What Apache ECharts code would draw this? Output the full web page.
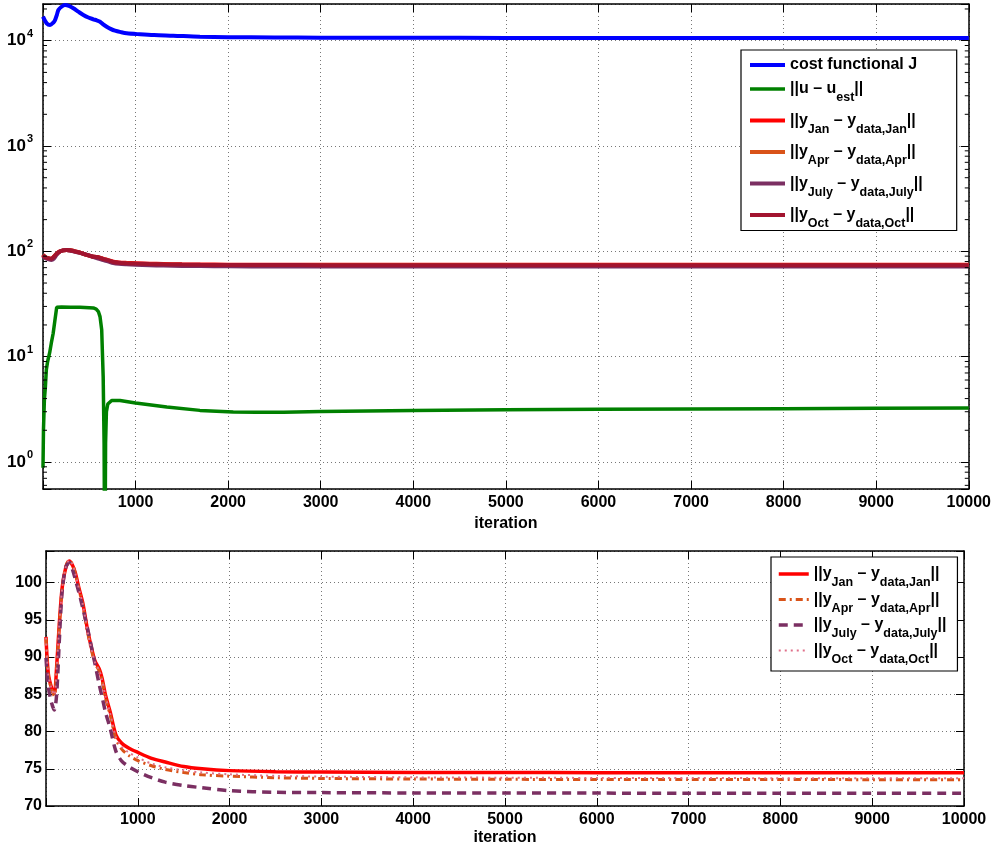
<!DOCTYPE html>
<html>
<head>
<meta charset="utf-8">
<script src="https://cdn.jsdelivr.net/npm/echarts@6/dist/echarts.min.js"></script>
<style>
html,body{margin:0;padding:0;background:#fff;}
#chart{width:994px;height:848px;}
</style>
</head>
<body>
<div id="chart"></div>
<script>
// ---------- data ----------
var xTicks = [1000, 2000, 3000, 4000, 5000, 6000, 7000, 8000, 9000, 10000];

var costIter = [0,40,76,110,130,150,166,200,238,280,328,380,436,490,544,580,616,650,688,730,778,840,904,1048,1200,1407,1695,2000,2500,3000,4000,5000,6000,7000,8000,9000,10000];
var costJ = [16900,14600,14100,14800,15700,17600,19550,21000,21800,21400,20300,18900,17540,16600,15960,15600,15140,14300,13580,12950,12440,12050,11750,11500,11300,11150,10910,10800,10720,10680,10650,10630,10620,10610,10600,10600,10600];

var uIter = [0,5,15,26,36,50,72,90,110,127,148,160,200,300,400,500,544,575,598,616,634,650,660,668,676,685,700,742,832,1000,1337,1695,2055,2300,2600,3000,4000,5000,6000,7000,8000,9000,10000];
var uNorm = [0.88,2.0,3.9,5.2,7.5,9.0,10.9,13.5,16.7,21.6,29.5,29.6,29.6,29.5,29.4,29.2,29.0,28.3,26.8,24,18,6.5,1.5,0.05,1.5,3.0,3.55,3.84,3.84,3.63,3.33,3.09,2.98,2.96,2.97,3.02,3.08,3.13,3.16,3.19,3.21,3.23,3.25];

var yIter = [0,25,62,90,116,145,177,217,254,290,320,360,400,460,530,580,610,650,700,760,820,900,1000,1150,1300,1500,1700,2000,2500,3000,4000,5000,6000,7000,8000,9000,10000];
var yJan = [92.7,87.8,85.8,85.1,88.7,94.5,99.4,102.1,102.9,102.3,101.3,99.2,97.3,93.2,89.6,88.4,87.2,84.8,82.6,79.6,78.5,77.8,77.2,76.4,75.9,75.3,75.0,74.75,74.6,74.55,74.5,74.5,74.48,74.47,74.47,74.46,74.46];
var yApr = [92.5,87.6,85.6,84.8,88.4,94.3,99.3,102.2,103.0,102.4,101.2,99.0,97.0,92.9,89.3,88.1,86.9,84.4,82.2,79.1,77.7,76.8,76.1,75.4,74.9,74.5,74.2,74.0,73.8,73.7,73.62,73.58,73.56,73.55,73.55,73.54,73.54];
var yJuly = [89.9,86.0,83.8,82.9,85.0,92.2,99.0,102.1,102.7,101.7,100.4,98.6,96.6,93.4,89.3,86.3,84.7,82.5,80.4,77.4,76.1,75.3,74.6,73.8,73.2,72.75,72.45,72.05,71.85,71.8,71.75,71.74,71.73,71.72,71.72,71.72,71.72];
var yOct = [92.6,87.7,85.7,84.9,88.5,94.4,99.3,102.2,103.0,102.4,101.2,99.1,97.1,93.0,89.4,88.2,87.0,84.6,82.4,79.3,78.0,77.2,76.5,75.7,75.2,74.8,74.5,74.25,74.05,73.95,73.85,73.8,73.77,73.75,73.74,73.73,73.72];

var logTickExps = [0, 1, 2, 3, 4];
var logMinorTicks = [0.6,0.7,0.8,0.9,2,3,4,5,6,7,8,9,20,30,40,50,60,70,80,90,200,300,400,500,600,700,800,900,2000,3000,4000,5000,6000,7000,8000,9000,20000];
var linTicks = [70, 75, 80, 85, 90, 95, 100];

var legendTop = {
  J: '{n|cost functional J}',
  U: '{n|||u – u}{s|est}{n|||}',
  Jan1: '{n|||y}{s|Jan}{n| – y}{s|data,Jan}{n|||}',
  Apr1: '{n|||y}{s|Apr}{n| – y}{s|data,Apr}{n|||}',
  July1: '{n|||y}{s|July}{n| – y}{s|data,July}{n|||}',
  Oct1: '{n|||y}{s|Oct}{n| – y}{s|data,Oct}{n|||}'
};
var legendBottom = {
  Jan2: '{n|||y}{s|Jan}{n| – y}{s|data,Jan}{n|||}',
  Apr2: '{n|||y}{s|Apr}{n| – y}{s|data,Apr}{n|||}',
  July2: '{n|||y}{s|July}{n| – y}{s|data,July}{n|||}',
  Oct2: '{n|||y}{s|Oct}{n| – y}{s|data,Oct}{n|||}'
};

// ---------- helpers ----------
function pairs(xs, ys) { return xs.map(function (x, i) { return [x, ys[i]]; }); }
var FONT = 'Liberation Sans, Arial, Helvetica, sans-serif';
var gridDot = { show: true, lineStyle: { color: '#777', width: 1, type: [1, 3] } };
var axisLine = { show: true, onZero: false, lineStyle: { color: '#000', width: 1.5 } };
var tickIn = { show: true, inside: true, length: 8, lineStyle: { color: '#000', width: 1 } };
var richLegend = {
  n: { fontSize: 16, fontWeight: 'bold', fontFamily: FONT, color: '#000' },
  s: { fontSize: 12.5, fontWeight: 'bold', fontFamily: FONT, color: '#000', padding: [18, 0, 0, 0] }
};

function xAxes(grid) {
  return [
    { type: 'value', gridIndex: grid, min: 0, max: 10000, interval: 1000, position: 'bottom',
      axisLine: axisLine, axisTick: tickIn, splitLine: gridDot,
      axisLabel: { margin: 6, color: '#000', fontFamily: FONT, fontWeight: 'bold', fontSize: 16,
        formatter: function (v) { return xTicks.indexOf(v) >= 0 ? String(v) : ''; } },
      name: 'iteration', nameLocation: 'middle', nameGap: 24,
      nameTextStyle: { color: '#000', fontFamily: FONT, fontWeight: 'bold', fontSize: 16 } },
    { type: 'value', gridIndex: grid, min: 0, max: 10000, interval: 1000, position: 'top',
      axisLine: axisLine, axisTick: tickIn, splitLine: { show: false }, axisLabel: { show: false } }
  ];
}

var option = {
  backgroundColor: '#fff',
  animation: false,
  grid: [
    { left: 43, top: 4, width: 926, height: 485 },
    { left: 46, top: 551, width: 918, height: 255 }
  ],
  xAxis: xAxes(0).concat(xAxes(1)),
  yAxis: [
    { type: 'log', gridIndex: 0, min: 0.554, max: 22300, logBase: 10, position: 'left',
      axisLine: axisLine, axisTick: tickIn, splitLine: gridDot,
      axisLabel: { margin: 10, color: '#000', fontFamily: FONT, fontWeight: 'bold',
        formatter: function (v) {
          var e = Math.log10(v);
          var r = Math.round(e);
          if (Math.abs(e - r) < 1e-6 && logTickExps.indexOf(r) >= 0) return '{b|10}{e|' + r + '}';
          return '';
        },
        rich: {
          b: { fontSize: 17, fontWeight: 'bold', fontFamily: FONT, color: '#000' },
          e: { fontSize: 11, fontWeight: 'bold', fontFamily: FONT, color: '#000', padding: [0, 0, 14, 1] }
        } } },
    { type: 'log', gridIndex: 0, min: 0.554, max: 22300, logBase: 10, position: 'right',
      axisLine: axisLine, axisTick: tickIn, splitLine: { show: false }, axisLabel: { show: false } },
    { type: 'value', gridIndex: 1, min: 70, max: 104.24, interval: 5, position: 'left',
      axisLine: axisLine, axisTick: tickIn, splitLine: gridDot,
      axisLabel: { margin: 4, color: '#000', fontFamily: FONT, fontWeight: 'bold', fontSize: 16,
        formatter: function (v) { return linTicks.indexOf(v) >= 0 ? String(v) : ''; } } },
    { type: 'value', gridIndex: 1, min: 70, max: 104.24, interval: 5, position: 'right',
      axisLine: axisLine, axisTick: tickIn, splitLine: { show: false }, axisLabel: { show: false } }
  ],
  legend: [
    { orient: 'vertical', left: 741, top: 50, padding: [7, 34, 0, 7], itemGap: 8,
      itemWidth: 35, itemHeight: 14, backgroundColor: '#fff', borderColor: '#000', borderWidth: 1.2,
      borderRadius: 0, data: ['J', 'U', 'Jan1', 'Apr1', 'July1', 'Oct1'],
      itemStyle: { opacity: 0 }, lineStyle: { width: 'inherit' },
      formatter: function (n) { return legendTop[n]; },
      textStyle: { color: '#000', fontFamily: FONT, fontWeight: 'bold', fontSize: 16, rich: richLegend } },
    { orient: 'vertical', left: 771, top: 557, padding: [9, 11, 5, 6], itemGap: 2,
      itemWidth: 30, itemHeight: 14, backgroundColor: '#fff', borderColor: '#000', borderWidth: 1.2,
      borderRadius: 0, data: ['Jan2', 'Apr2', 'July2', 'Oct2'],
      itemStyle: { opacity: 0 }, lineStyle: { width: 'inherit' },
      formatter: function (n) { return legendBottom[n]; },
      textStyle: { color: '#000', fontFamily: FONT, fontWeight: 'bold', fontSize: 16, rich: richLegend } }
  ],
  series: [
    { name: 'minorTicks', type: 'custom', xAxisIndex: 0, yAxisIndex: 0, silent: true, z: 5,
      data: logMinorTicks.map(function (v) { return [0, v]; }),
      renderItem: function (params, api) {
        var p = api.coord([0, api.value(1)]);
        var q = api.coord([10000, api.value(1)]);
        return { type: 'group', children: [
          { type: 'line', shape: { x1: p[0], y1: p[1], x2: p[0] + 4, y2: p[1] }, style: { stroke: '#000', lineWidth: 1 } },
          { type: 'line', shape: { x1: q[0] - 4, y1: q[1], x2: q[0], y2: q[1] }, style: { stroke: '#000', lineWidth: 1 } }
        ] };
      } },
    { name: 'J', type: 'line', xAxisIndex: 0, yAxisIndex: 0, data: pairs(costIter, costJ), symbol: 'none',
      smooth: 0.3, lineStyle: { color: '#0000ff', width: 4 }, itemStyle: { color: '#0000ff' } },
    { name: 'U', type: 'line', xAxisIndex: 0, yAxisIndex: 0, data: pairs(uIter, uNorm), symbol: 'none',
      lineStyle: { color: '#008000', width: 3.5 }, itemStyle: { color: '#008000' } },
    { name: 'Jan1', type: 'line', xAxisIndex: 0, yAxisIndex: 0, data: pairs(yIter, yJan), symbol: 'none',
      smooth: 0.3, lineStyle: { color: '#ff0000', width: 4 }, itemStyle: { color: '#ff0000' } },
    { name: 'Apr1', type: 'line', xAxisIndex: 0, yAxisIndex: 0, data: pairs(yIter, yApr), symbol: 'none',
      smooth: 0.3, lineStyle: { color: '#d95319', width: 4 }, itemStyle: { color: '#d95319' } },
    { name: 'July1', type: 'line', xAxisIndex: 0, yAxisIndex: 0, data: pairs(yIter, yJuly), symbol: 'none',
      smooth: 0.3, lineStyle: { color: '#7b2f62', width: 4 }, itemStyle: { color: '#7b2f62' } },
    { name: 'Oct1', type: 'line', xAxisIndex: 0, yAxisIndex: 0, data: pairs(yIter, yOct), symbol: 'none',
      smooth: 0.3, lineStyle: { color: '#a2142f', width: 4 }, itemStyle: { color: '#a2142f' } },

    { name: 'Jan2', type: 'line', xAxisIndex: 2, yAxisIndex: 2, data: pairs(yIter, yJan), symbol: 'none',
      smooth: 0.3, lineStyle: { color: '#ff0000', width: 3.5 }, itemStyle: { color: '#ff0000' } },
    { name: 'Apr2', type: 'line', xAxisIndex: 2, yAxisIndex: 2, data: pairs(yIter, yApr), symbol: 'none',
      smooth: 0.3, lineStyle: { color: '#d95319', width: 3, type: [7, 4, 2, 4] }, itemStyle: { color: '#d95319' } },
    { name: 'July2', type: 'line', xAxisIndex: 2, yAxisIndex: 2, data: pairs(yIter, yJuly), symbol: 'none',
      smooth: 0.3, lineStyle: { color: '#7b2f62', width: 3.5, type: [9, 6] }, itemStyle: { color: '#7b2f62' } },
    { name: 'Oct2', type: 'line', xAxisIndex: 2, yAxisIndex: 2, data: pairs(yIter, yOct), symbol: 'none',
      smooth: 0.3, lineStyle: { color: '#e0708a', width: 2, type: [2, 4] }, itemStyle: { color: '#e0708a' } }
  ]
};

var chart = echarts.init(document.getElementById('chart'), null, { renderer: 'canvas' });
chart.setOption(option);
</script>
</body>
</html>
